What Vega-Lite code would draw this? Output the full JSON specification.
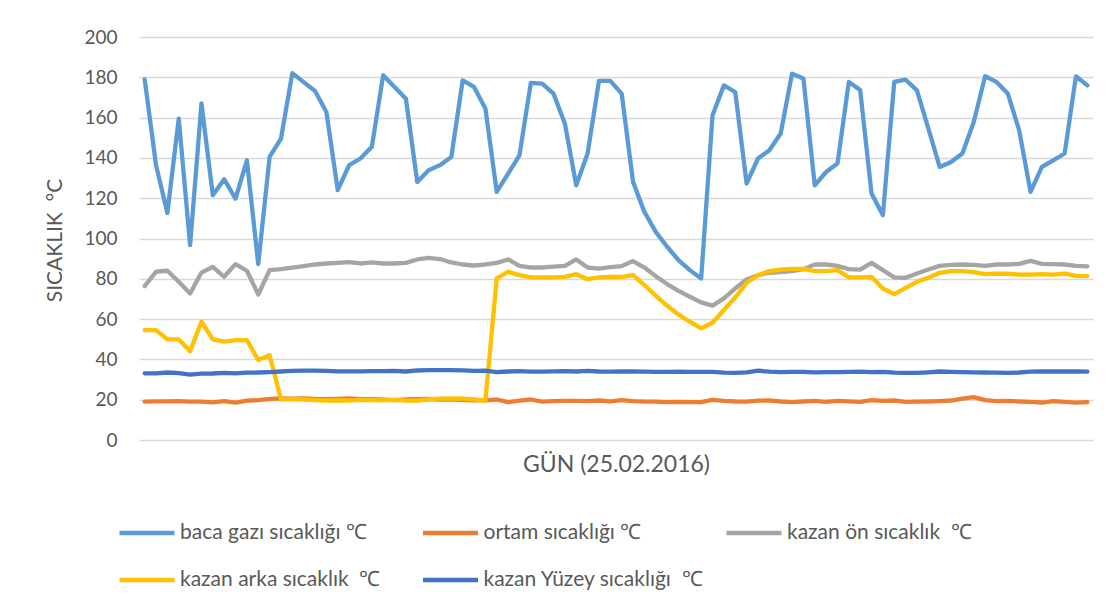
{
  "$schema": "https://vega.github.io/schema/vega-lite/v6.json",
  "autosize": {"type": "none"},
  "width": 954,
  "height": 403,
  "padding": {"left": 139, "top": 37, "right": 25, "bottom": 168},
  "background": "white",
  "config": {
    "view": {"stroke": null},
    "font": "Lato"
  },
  "data": {
    "values": [
      {"t":0,"baca":179,"ortam":19.0,"on":76.4,"arka":54.5,"yuzey":33.1},
      {"t":1,"baca":136.4,"ortam":19.2,"on":83.5,"arka":54.5,"yuzey":33.1},
      {"t":2,"baca":112.7,"ortam":19.2,"on":84,"arka":49.9,"yuzey":33.5},
      {"t":3,"baca":159.5,"ortam":19.3,"on":78.5,"arka":49.9,"yuzey":33.2},
      {"t":4,"baca":96.7,"ortam":19.0,"on":72.7,"arka":44.1,"yuzey":32.4},
      {"t":5,"baca":167,"ortam":19.0,"on":83.1,"arka":58.7,"yuzey":32.9},
      {"t":6,"baca":121.5,"ortam":18.7,"on":85.9,"arka":49.9,"yuzey":33.0},
      {"t":7,"baca":129.4,"ortam":19.3,"on":81,"arka":48.8,"yuzey":33.3},
      {"t":8,"baca":119.8,"ortam":18.5,"on":87.3,"arka":49.6,"yuzey":33.1},
      {"t":9,"baca":138.8,"ortam":19.5,"on":84,"arka":49.6,"yuzey":33.4},
      {"t":10,"baca":87.3,"ortam":19.8,"on":72.2,"arka":39.7,"yuzey":33.5},
      {"t":11,"baca":140.5,"ortam":20.4,"on":84.3,"arka":42.1,"yuzey":33.7},
      {"t":12,"baca":149.6,"ortam":20.7,"on":84.8,"arka":20.2,"yuzey":34.0},
      {"t":13,"baca":182.1,"ortam":20.5,"on":85.6,"arka":20.3,"yuzey":34.3},
      {"t":14,"baca":177.6,"ortam":20.7,"on":86.3,"arka":20.1,"yuzey":34.4},
      {"t":15,"baca":173.2,"ortam":20.4,"on":87.1,"arka":19.8,"yuzey":34.4},
      {"t":16,"baca":162.8,"ortam":20.3,"on":87.6,"arka":19.6,"yuzey":34.3},
      {"t":17,"baca":124,"ortam":20.4,"on":87.9,"arka":19.7,"yuzey":34.1},
      {"t":18,"baca":136.4,"ortam":20.6,"on":88.3,"arka":19.5,"yuzey":34.1},
      {"t":19,"baca":139.7,"ortam":20.3,"on":87.6,"arka":19.9,"yuzey":34.1},
      {"t":20,"baca":145.5,"ortam":20.3,"on":88.1,"arka":19.8,"yuzey":34.2},
      {"t":21,"baca":181,"ortam":20.0,"on":87.6,"arka":19.7,"yuzey":34.2},
      {"t":22,"baca":175.2,"ortam":19.8,"on":87.6,"arka":19.9,"yuzey":34.3},
      {"t":23,"baca":169.4,"ortam":20.1,"on":87.9,"arka":19.6,"yuzey":34.0},
      {"t":24,"baca":128.1,"ortam":20.3,"on":89.6,"arka":19.5,"yuzey":34.5},
      {"t":25,"baca":133.9,"ortam":20.4,"on":90.4,"arka":20.1,"yuzey":34.7},
      {"t":26,"baca":136.4,"ortam":20.1,"on":89.8,"arka":20.5,"yuzey":34.7},
      {"t":27,"baca":140.5,"ortam":20.2,"on":88.1,"arka":20.6,"yuzey":34.7},
      {"t":28,"baca":178.5,"ortam":19.9,"on":87.1,"arka":20.5,"yuzey":34.6},
      {"t":29,"baca":175.2,"ortam":19.7,"on":86.6,"arka":20.2,"yuzey":34.3},
      {"t":30,"baca":164.5,"ortam":19.7,"on":87.1,"arka":19.6,"yuzey":34.4},
      {"t":31,"baca":123.1,"ortam":20.1,"on":87.9,"arka":80.2,"yuzey":33.7},
      {"t":32,"baca":132.2,"ortam":18.8,"on":89.6,"arka":83.5,"yuzey":34.0},
      {"t":33,"baca":141.3,"ortam":19.5,"on":86.4,"arka":81.8,"yuzey":34.2},
      {"t":34,"baca":177.2,"ortam":20.1,"on":85.6,"arka":80.7,"yuzey":33.9},
      {"t":35,"baca":176.9,"ortam":19.0,"on":85.6,"arka":80.7,"yuzey":33.9},
      {"t":36,"baca":171.9,"ortam":19.3,"on":86,"arka":80.7,"yuzey":34.1},
      {"t":37,"baca":157,"ortam":19.4,"on":86.4,"arka":81,"yuzey":34.2},
      {"t":38,"baca":126.4,"ortam":19.4,"on":89.6,"arka":82.3,"yuzey":34.0},
      {"t":39,"baca":142.2,"ortam":19.3,"on":85.6,"arka":79.8,"yuzey":34.3},
      {"t":40,"baca":178.2,"ortam":19.6,"on":85.1,"arka":80.7,"yuzey":34.0},
      {"t":41,"baca":178.2,"ortam":19.2,"on":85.8,"arka":80.9,"yuzey":33.9},
      {"t":42,"baca":171.9,"ortam":19.8,"on":86.3,"arka":81,"yuzey":34.0},
      {"t":43,"baca":128.1,"ortam":19.3,"on":88.8,"arka":81.8,"yuzey":34.0},
      {"t":44,"baca":113.2,"ortam":19.0,"on":85.6,"arka":76.9,"yuzey":33.9},
      {"t":45,"baca":103.3,"ortam":19.0,"on":81.3,"arka":71.6,"yuzey":33.8},
      {"t":46,"baca":95.9,"ortam":18.8,"on":77.4,"arka":66.6,"yuzey":33.8},
      {"t":47,"baca":89.3,"ortam":18.9,"on":74,"arka":62.3,"yuzey":33.9},
      {"t":48,"baca":84.3,"ortam":18.8,"on":71.1,"arka":58.7,"yuzey":33.8},
      {"t":49,"baca":80.2,"ortam":18.8,"on":68.3,"arka":55.4,"yuzey":33.8},
      {"t":50,"baca":161.2,"ortam":19.9,"on":66.7,"arka":58.2,"yuzey":33.8},
      {"t":51,"baca":176,"ortam":19.4,"on":70.3,"arka":64.5,"yuzey":33.4},
      {"t":52,"baca":172.7,"ortam":19.1,"on":75.2,"arka":70.8,"yuzey":33.3},
      {"t":53,"baca":127.3,"ortam":19.0,"on":79.7,"arka":78,"yuzey":33.6},
      {"t":54,"baca":139.7,"ortam":19.5,"on":81.8,"arka":81.8,"yuzey":34.4},
      {"t":55,"baca":143.8,"ortam":19.6,"on":83,"arka":83.8,"yuzey":33.9},
      {"t":56,"baca":152.1,"ortam":19.1,"on":83.3,"arka":84.6,"yuzey":33.7},
      {"t":57,"baca":181.8,"ortam":18.8,"on":83.8,"arka":84.9,"yuzey":33.8},
      {"t":58,"baca":179.4,"ortam":19.1,"on":84.8,"arka":84.9,"yuzey":33.8},
      {"t":59,"baca":126.4,"ortam":19.4,"on":87.1,"arka":83.8,"yuzey":33.6},
      {"t":60,"baca":133,"ortam":18.9,"on":87.1,"arka":83.8,"yuzey":33.7},
      {"t":61,"baca":137.2,"ortam":19.4,"on":86.4,"arka":84.3,"yuzey":33.7},
      {"t":62,"baca":177.7,"ortam":19.2,"on":84.8,"arka":80.7,"yuzey":33.8},
      {"t":63,"baca":173.7,"ortam":18.9,"on":84.6,"arka":80.7,"yuzey":33.9},
      {"t":64,"baca":122.3,"ortam":19.8,"on":87.9,"arka":81,"yuzey":33.7},
      {"t":65,"baca":111.6,"ortam":19.4,"on":84.3,"arka":75.2,"yuzey":33.8},
      {"t":66,"baca":177.7,"ortam":19.6,"on":80.7,"arka":72.4,"yuzey":33.4},
      {"t":67,"baca":178.8,"ortam":18.9,"on":80.5,"arka":75.5,"yuzey":33.3},
      {"t":68,"baca":173.5,"ortam":19.0,"on":82.6,"arka":78.5,"yuzey":33.3},
      {"t":69,"baca":154.6,"ortam":19.1,"on":84.6,"arka":80.5,"yuzey":33.6},
      {"t":70,"baca":135.5,"ortam":19.3,"on":86.4,"arka":83,"yuzey":34.0},
      {"t":71,"baca":138,"ortam":19.6,"on":86.9,"arka":83.8,"yuzey":33.8},
      {"t":72,"baca":142.2,"ortam":20.5,"on":87.1,"arka":83.8,"yuzey":33.7},
      {"t":73,"baca":157.8,"ortam":21.3,"on":86.9,"arka":83.3,"yuzey":33.6},
      {"t":74,"baca":180.5,"ortam":19.8,"on":86.4,"arka":82.3,"yuzey":33.5},
      {"t":75,"baca":177.7,"ortam":19.3,"on":87.1,"arka":82.6,"yuzey":33.4},
      {"t":76,"baca":171.9,"ortam":19.4,"on":87.1,"arka":82.5,"yuzey":33.3},
      {"t":77,"baca":153.7,"ortam":19.1,"on":87.4,"arka":82.1,"yuzey":33.5},
      {"t":78,"baca":123.1,"ortam":18.9,"on":88.9,"arka":82.1,"yuzey":33.9},
      {"t":79,"baca":135.5,"ortam":18.6,"on":87.4,"arka":82.3,"yuzey":34.0},
      {"t":80,"baca":138.8,"ortam":19.3,"on":87.3,"arka":82.1,"yuzey":34.0},
      {"t":81,"baca":142.2,"ortam":18.9,"on":87.1,"arka":82.6,"yuzey":34.0},
      {"t":82,"baca":180.5,"ortam":18.5,"on":86.4,"arka":81.5,"yuzey":34.0},
      {"t":83,"baca":176,"ortam":18.8,"on":86.2,"arka":81.3,"yuzey":33.9}
    ]
  },
  "transform": [
    {"fold": ["baca", "ortam", "on", "arka", "yuzey"], "as": ["seri", "deger"]}
  ],
  "mark": {"type": "line", "strokeWidth": 4.3, "strokeCap": "round", "strokeJoin": "round"},
  "encoding": {
    "x": {
      "field": "t",
      "type": "quantitative",
      "scale": {"domain": [-0.5, 83.5], "nice": false, "zero": false},
      "axis": {
        "title": "GÜN (25.02.2016)",
        "labels": false,
        "ticks": false,
        "domain": false,
        "grid": false,
        "titleFont": "Lato",
        "titleFontSize": 23,
        "titleFontWeight": "normal",
        "titleColor": "#595959",
        "titleBaseline": "middle",
        "titleY": 24
      }
    },
    "y": {
      "field": "deger",
      "type": "quantitative",
      "scale": {"domain": [0, 200], "nice": false},
      "axis": {
        "title": "SICAKLIK \u00a0°C",
        "values": [0, 20, 40, 60, 80, 100, 120, 140, 160, 180, 200],
        "ticks": false,
        "domain": false,
        "grid": true,
        "gridColor": "#D9D9D9",
        "gridWidth": 1.4,
        "labelFont": "Lato",
        "labelFontSize": 19,
        "labelColor": "#595959",
        "labelPadding": 22,
        "titleFont": "Lato",
        "titleFontSize": 21,
        "titleFontWeight": "normal",
        "titleColor": "#595959",
        "titleAngle": -90,
        "titleAlign": "center",
        "titleBaseline": "middle",
        "titleX": -84,
        "titleY": 203
      }
    },
    "color": {
      "field": "seri",
      "type": "nominal",
      "scale": {
        "domain": ["baca", "ortam", "on", "arka", "yuzey"],
        "range": ["#5B9BD5", "#ED7D31", "#A5A5A5", "#FFC000", "#4472C4"]
      },
      "legend": {
        "title": null,
        "orient": "none",
        "legendX": -22,
        "legendY": 466,
        "direction": "horizontal",
        "columns": 3,
        "gridAlign": "all",
        "columnPadding": 12.5,
        "rowPadding": 7,
        "symbolType": "stroke",
        "symbolSize": 3025,
        "symbolStrokeWidth": 4.5,
        "labelOffset": 3,
        "labelFont": "Lato",
        "labelFontSize": 21,
        "labelColor": "#595959",
        "labelLimit": 400,
        "labelExpr": "datum.value === 'baca' ? 'baca gazı sıcaklığı ℃' : datum.value === 'ortam' ? 'ortam sıcaklığı ℃' : datum.value === 'on' ? 'kazan ön sıcaklık \u00a0℃' : datum.value === 'arka' ? 'kazan arka sıcaklık \u00a0℃' : 'kazan Yüzey sıcaklığı \u00a0℃'"
      }
    },
    "order": {"field": "t", "type": "quantitative"}
  }
}
